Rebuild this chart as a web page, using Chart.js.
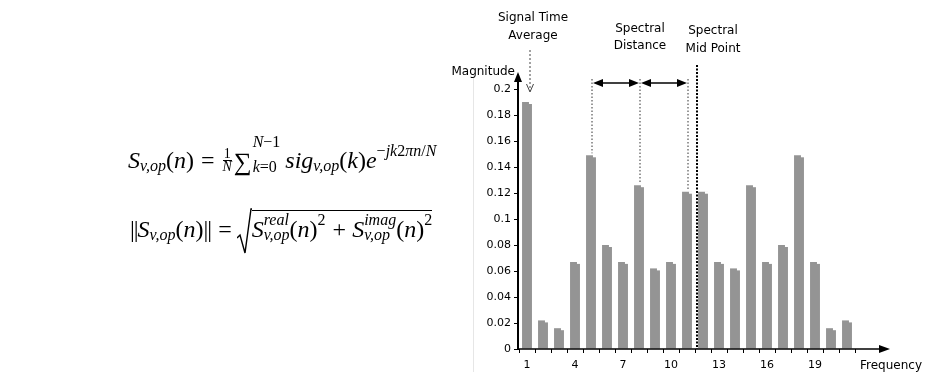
<!DOCTYPE html>
<html>
<head>
<meta charset="utf-8">
<script src="https://cdn.jsdelivr.net/npm/chart.js@4.4.0/dist/chart.umd.min.js"></script>
<style>
  body { margin: 0; background: #fff; }
  #wrap { position: relative; width: 926px; height: 372px; overflow: hidden; }
  #c { position: absolute; left: 0; top: 0; }
  .eq { position: absolute; font-family: "Liberation Serif", "DejaVu Serif", serif; font-size: 24px; line-height: 1; white-space: nowrap; color: #000; }
  .eq i { font-style: italic; }
  .sb { font-size: 16px; position: relative; top: 3px; }
  .sp { font-size: 16px; position: relative; top: -12px; }
  .lim { display: inline-flex; flex-direction: column; font-size: 16px; line-height: 25px; position: relative; top: -21px; }
  .st { display: inline-flex; flex-direction: column; font-size: 16px; line-height: 15px; position: relative; top: -12px; }
  .frac { display: inline-flex; flex-direction: column; align-items: center; font-size: 14px; line-height: 12px; position: relative; top: -10px; margin: 0 2px 0 3px; }
  .frac span:first-child { border-bottom: 1px solid #000; padding: 0 1px; }
  .sum { font-size: 25px; position: relative; top: 2px; margin-right: 1px; }
  .op { margin: 0 5px 0 7px; }
  .plus { margin: 0 6px 0 7px; }
  .nb { letter-spacing: -1px; }
  .ov { display: inline-block; border-top: 1.3px solid #000; padding-top: 6px; margin-top: -8px; }
  .rad { display: inline-block; vertical-align: -18px; margin-top: -14px; }
</style>
</head>
<body>
<div id="wrap">
  <canvas id="c" width="926" height="372"></canvas>

  <div class="eq" style="left:128px; top:147px;"><i>S</i><span class="sb"><i>v,op</i></span>(<i>n</i>)<span class="op">=</span><span class="frac"><span>1</span><span><i>N</i></span></span><span class="sum">&sum;</span><span class="lim"><span><i>N</i>&minus;1</span><span><i>k</i>=0</span></span><i style="margin-left:5px">sig</i><span class="sb"><i>v,op</i></span>(<i>k</i>)<i>e</i><span class="sp">&minus;<i>jk</i>2<i>&pi;n</i>/<i>N</i></span></div>

  <div class="eq" style="left:130px; top:217px;"><span class="nb">||</span><i>S</i><span class="sb"><i>v,op</i></span>(<i>n</i>)<span class="nb">||</span><span class="op">=</span><svg class="rad" width="15" height="47" viewBox="0 0 15 47"><polyline points="0,30 3,27 8,45 14,1 15,1" fill="none" stroke="#000" stroke-width="1.4"/></svg><span class="ov"><i>S</i><span class="st"><span><i>real</i></span><span><i>v,op</i></span></span>(<i>n</i>)<span class="sp">2</span><span class="plus">+</span><i>S</i><span class="st"><span><i>imag</i></span><span><i>v,op</i></span></span>(<i>n</i>)<span class="sp">2</span></span></div>
</div>

<script>
// data
const frequencies = ['1', '2', '3', '4', '5', '6', '7', '8', '9', '10', '11', '12', '13', '14', '15', '16', '17', '18', '19', '20', '21'];
const magnitudes = [0.190, 0.022, 0.016, 0.067, 0.149, 0.080, 0.067, 0.126, 0.062, 0.067, 0.121,
                    0.121, 0.067, 0.062, 0.126, 0.067, 0.080, 0.149, 0.067, 0.016, 0.022];
const xTickLabels = ['1', '4', '7', '10', '13', '16', '19'];
const yTicks = [0, 0.02, 0.04, 0.06, 0.08, 0.1, 0.12, 0.14, 0.16, 0.18, 0.2];

// annotation anchors (category indexes)
const averageBar = 0;
const distanceBars = [4, 7, 10];
const midPointBetween = [10, 11];

const textFont = '12px "DejaVu Sans", sans-serif';

function line(ctx, x1, y1, x2, y2) {
  ctx.beginPath();
  ctx.moveTo(x1, y1);
  ctx.lineTo(x2, y2);
  ctx.stroke();
}

function tri(ctx, tipX, tipY, dx, dy, len, half) {
  // filled arrow head pointing in direction (dx, dy)
  const bx = tipX - dx * len, by = tipY - dy * len;
  ctx.beginPath();
  ctx.moveTo(tipX, tipY);
  ctx.lineTo(bx - dy * half, by + dx * half);
  ctx.lineTo(bx + dy * half, by - dx * half);
  ctx.closePath();
  ctx.fill();
}

const barSteps = {
  id: 'barSteps',
  afterDatasetsDraw(chart) {
    // small step on the right of every bar top
    const ctx = chart.ctx;
    ctx.save();
    ctx.fillStyle = '#fff';
    chart.getDatasetMeta(0).data.forEach(bar => {
      const right = bar.x + bar.width / 2;
      ctx.fillRect(right - 3, bar.y - 0.5, 3.5, 2.5);
    });
    ctx.restore();
  }
};

const annotations = {
  id: 'annotations',
  afterDraw(chart) {
    const { ctx, chartArea: a, scales: { x, y } } = chart;
    ctx.save();

    // frame line on the left
    ctx.strokeStyle = '#e6e6e6';
    ctx.lineWidth = 1;
    line(ctx, 473.5, 75, 473.5, 372);

    // axes with arrows
    const ax = a.left - 1;
    ctx.strokeStyle = '#000';
    ctx.fillStyle = '#000';
    ctx.lineWidth = 2;
    line(ctx, ax, a.bottom, ax, 80);
    tri(ctx, ax, 72, 0, -1, 10, 4);
    ctx.lineWidth = 1.5;
    line(ctx, ax, a.bottom, 880, a.bottom);
    tri(ctx, 890, a.bottom, 1, 0, 11, 4);

    // axis titles
    ctx.font = textFont;
    ctx.textBaseline = 'middle';
    ctx.textAlign = 'right';
    ctx.fillText('Magnitude', 515, 72);
    ctx.textAlign = 'left';
    ctx.fillText('Frequency', 860, 366);

    // signal time average
    ctx.textAlign = 'center';
    const avgX = x.getPixelForValue(averageBar) + 3;
    ctx.fillText('Signal Time', 533, 18);
    ctx.fillText('Average', 533, 36);
    ctx.strokeStyle = '#444';
    ctx.lineWidth = 1;
    ctx.setLineDash([2, 2]);
    line(ctx, avgX, 50, avgX, 91);
    ctx.setLineDash([]);
    ctx.beginPath();
    ctx.moveTo(avgX - 3.5, 84);
    ctx.lineTo(avgX, 92);
    ctx.lineTo(avgX + 3.5, 84);
    ctx.stroke();

    // spectral distance
    ctx.fillStyle = '#000';
    ctx.fillText('Spectral', 640, 29);
    ctx.fillText('Distance', 640, 46);
    const arrowY = 83;
    const xs = distanceBars.map(i => x.getPixelForValue(i) + 1);
    ctx.strokeStyle = '#333';
    ctx.setLineDash([1.5, 2]);
    distanceBars.forEach((i, k) => {
      line(ctx, xs[k], arrowY - 4, xs[k], y.getPixelForValue(magnitudes[i]) - 2);
    });
    ctx.setLineDash([]);
    ctx.strokeStyle = '#000';
    ctx.lineWidth = 1.5;
    for (let k = 0; k < xs.length - 1; k++) {
      const l = xs[k] + 1, r = xs[k + 1] - 1;
      line(ctx, l + 8, arrowY, r - 8, arrowY);
      tri(ctx, l, arrowY, -1, 0, 10, 4);
      tri(ctx, r, arrowY, 1, 0, 10, 4);
    }

    // spectral mid point
    ctx.fillText('Spectral', 713, 31);
    ctx.fillText('Mid Point', 713, 49);
    const midX = (x.getPixelForValue(midPointBetween[0]) + x.getPixelForValue(midPointBetween[1])) / 2 + 2;
    ctx.lineWidth = 2;
    ctx.setLineDash([2, 1.5]);
    line(ctx, midX, 65, midX, a.bottom);
    ctx.setLineDash([]);

    ctx.restore();
  }
};

new Chart(document.getElementById('c'), {
  type: 'bar',
  data: {
    labels: frequencies,
    datasets: [{
      data: magnitudes,
      backgroundColor: '#949494',
      categoryPercentage: 1,
      barPercentage: 0.62
    }]
  },
  options: {
    responsive: false,
    animation: false,
    layout: { padding: { left: 469, right: 71, top: 89, bottom: 0 } },
    plugins: { legend: { display: false }, tooltip: { enabled: false } },
    scales: {
      x: {
        grid: { display: true, drawOnChartArea: false, tickLength: 4, color: '#000', lineWidth: 1 },
        border: { display: false },
        ticks: {
          autoSkip: false, maxRotation: 0, padding: 6, color: '#000',
          font: { family: 'DejaVu Sans', size: 11 },
          callback: (v, i) => xTickLabels.includes(frequencies[i]) ? frequencies[i] : ''
        },
        afterFit: s => { s.height = 23; }
      },
      y: {
        min: 0, max: 0.2,
        afterBuildTicks: s => { s.ticks = yTicks.map(v => ({ value: v })); },
        grid: { drawOnChartArea: false, tickLength: 5, color: '#000', lineWidth: 1 },
        border: { display: false },
        ticks: {
          padding: 3, color: '#000',
          font: { family: 'DejaVu Sans', size: 11 },
          callback: v => String(+v.toFixed(2))
        },
        afterFit: s => { s.width = 50; }
      }
    }
  },
  plugins: [barSteps, annotations]
});
</script>
</body>
</html>
